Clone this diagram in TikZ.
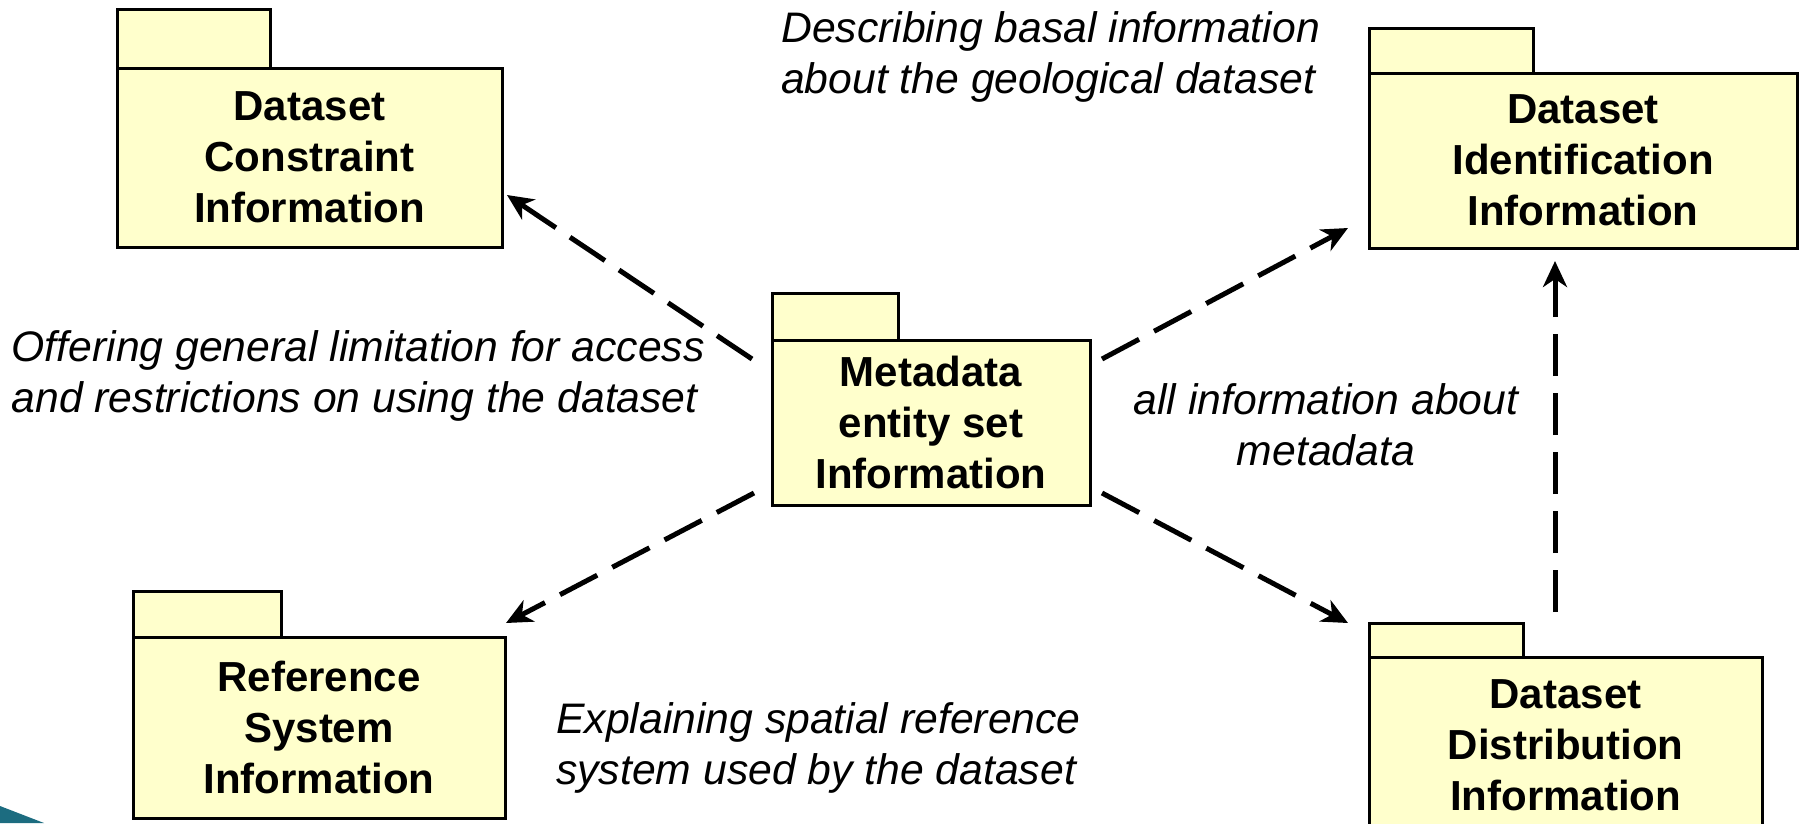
\documentclass[tikz,border=0pt]{standalone}
\usepackage{fontspec}
\setmainfont{Liberation Sans}
\usetikzlibrary{arrows.meta,calc}
\definecolor{pkgfill}{RGB}{255,255,204}
\definecolor{tealdeco}{RGB}{28,108,128}
\tikzset{
  pkgbody/.style={draw=black, line width=3pt, fill=pkgfill, inner sep=0pt, outer sep=0pt,
    align=center, font=\fontsize{42}{51}\selectfont\bfseries},
  pkgtab/.style={draw=black, line width=3pt, fill=pkgfill, inner sep=0pt, outer sep=0pt, anchor=south west},
  note/.style={inner sep=0pt, font=\fontsize{42.7}{51}\selectfont\itshape},
  dep/.style={line width=5pt, dash pattern=on 42pt off 17pt,
    -{Stealth[length=26pt,width=24pt,inset=8pt]}}
}
\begin{document}
\begin{tikzpicture}[x=1pt,y=-1pt]
\useasboundingbox (0,0) rectangle (1806,823);
\clip (0,0) rectangle (1806,823);
\fill[white] (0,0) rectangle (1806,823);
% packages
\node[pkgbody, minimum width=385pt, minimum height=179pt] (cons) at (309.5,157.5) {Dataset\\Constraint\\Information};
\node[pkgtab, minimum width=153pt, minimum height=59pt] (constab) at (cons.north west) {};
\node[pkgbody, minimum width=428pt, minimum height=175pt] (ident) at (1583,160.5) {Dataset\\Identification\\Information};
\node[pkgtab, minimum width=164pt, minimum height=45pt] (identtab) at (ident.north west) {};
\node[pkgbody, minimum width=318pt, minimum height=165pt] (meta) at (931,422.5) {Metadata\\entity set\\Information};
\node[pkgtab, minimum width=126pt, minimum height=47pt] (metatab) at (meta.north west) {};
\node[pkgbody, minimum width=372pt, minimum height=181pt] (ref) at (319,727.5) {Reference\\System\\Information};
\node[pkgtab, minimum width=148pt, minimum height=46pt] (reftab) at (ref.north west) {};
\node[pkgbody, minimum width=393pt, minimum height=176pt] (dist) at (1565.5,745) {Dataset\\Distribution\\Information};
\node[pkgtab, minimum width=154pt, minimum height=34pt] (disttab) at (dist.north west) {};
% notes
\node[note, anchor=west, align=left] (desc) at (781,57) {Describing basal information\\about the geological dataset};
\node[note, anchor=west, align=left] (offer) at (11.5,376) {Offering general limitation for access\\and restrictions on using the dataset};
\node[note, align=center] (allinfo) at (1326,425) {all information about\\metadata};
\node[note, anchor=west, align=left] (expl) at (556,748) {Explaining spatial reference\\system used by the dataset};
% connectors
\draw[dep] ($(meta.north west)+(-20,19)$) -- ($(cons.east)+(5,37.5)$);
\draw[dep] ($(meta.north east)+(12,19)$) -- ($(ident.south west)+(-21,-20)$);
\draw[dep] ($(meta.south west)+(-18,-12)$) -- ($(ref.north east)+(1,-14)$);
\draw[dep] ($(meta.south east)+(12,-12)$) -- ($(dist.north west)+(-21,-34)$);
\draw[dep] ($(dist.north west)+(186,-45)$) -- ($(ident.south west)+(186,13)$);
% decoration
\fill[tealdeco] (0,806) -- (44,823) -- (0,823) -- cycle;
\end{tikzpicture}
\end{document}
